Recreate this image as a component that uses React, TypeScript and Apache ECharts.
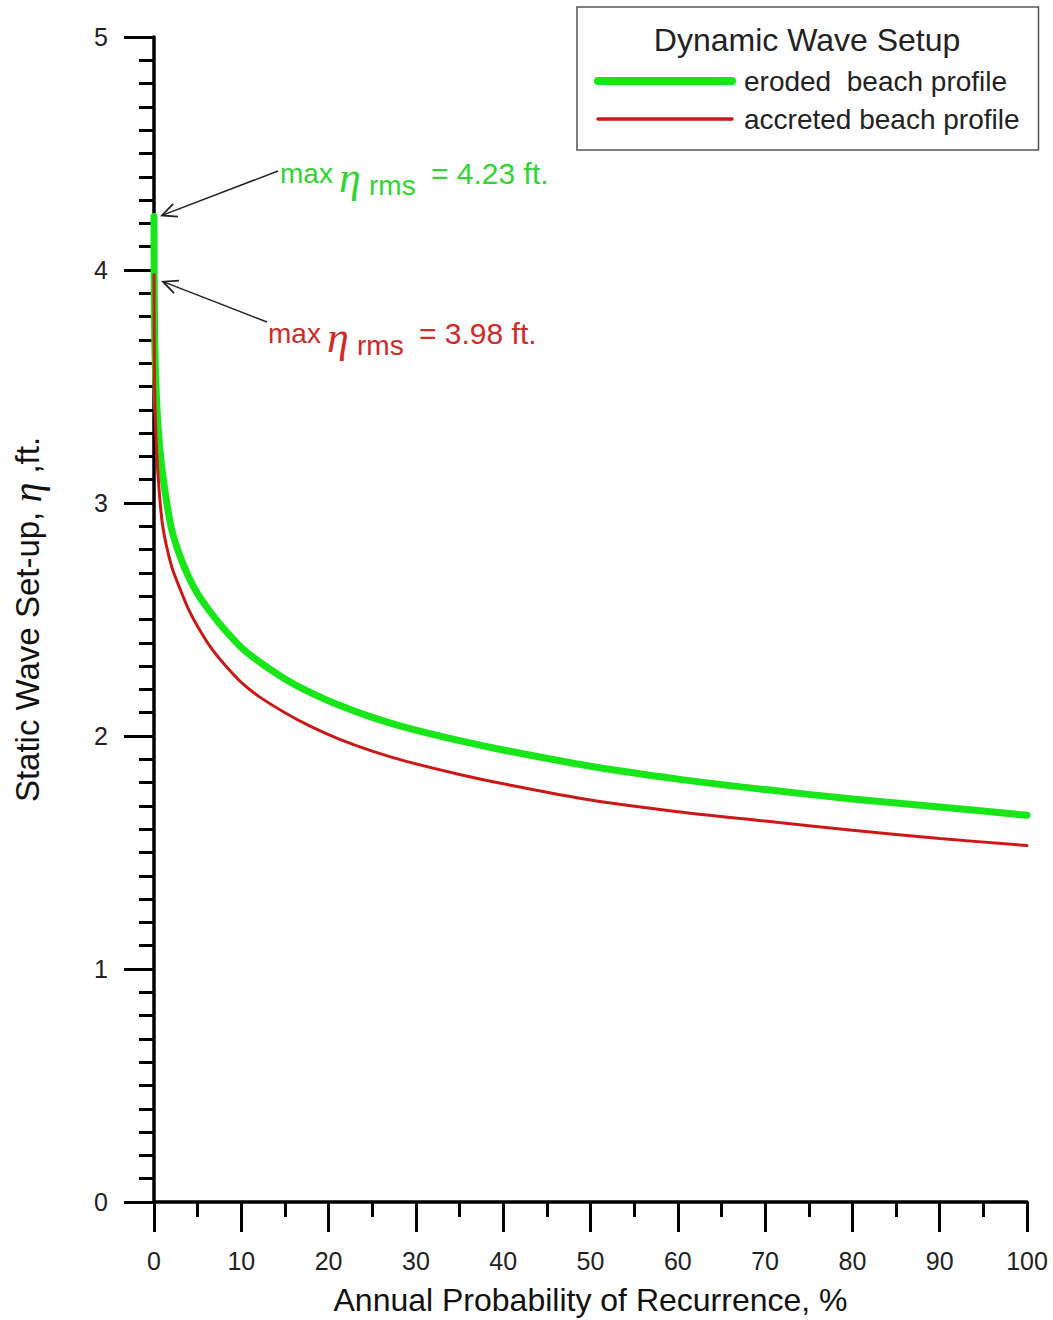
import React, { useEffect, useRef } from "react";
import * as echarts from "echarts";

// Annual probability of recurrence (%)
const probability = [0, 0.05, 0.2, 0.5, 1, 2, 3, 4, 5, 6.5, 8, 10, 12, 15, 18, 21, 25, 29, 35, 40, 50, 60, 70, 80, 90, 100];
// Static wave set-up (ft) for the eroded beach profile
const erodedSetup = [4.23, 3.8, 3.53, 3.31, 3.12, 2.89, 2.77, 2.68, 2.61, 2.53, 2.46, 2.38, 2.32, 2.245, 2.185, 2.135, 2.08, 2.035, 1.98, 1.94, 1.87, 1.815, 1.77, 1.73, 1.695, 1.66];
// Static wave set-up (ft) for the accreted beach profile
const accretedSetup = [3.98, 3.55, 3.31, 3.1, 2.9, 2.73, 2.63, 2.54, 2.47, 2.38, 2.31, 2.23, 2.17, 2.1, 2.04, 1.99, 1.935, 1.89, 1.835, 1.795, 1.725, 1.675, 1.635, 1.595, 1.56, 1.53];

const seriesNames = ["eroded  beach profile", "accreted beach profile"];
const legendTitle = "Dynamic Wave Setup";
const xAxisRange = [0, 100, 10];
const yAxisRange = [0, 5, 1];
const maxEroded = 4.23;
const maxAccreted = 3.98;

const FONT = '"Liberation Sans", Arial, Helvetica, sans-serif';
const GREEN = "#19e619";
const RED = "#cc1818";
const GREEN_TEXT = "#33d433";
const RED_TEXT = "#d02a2a";

function arrow(tip: number[], start: number[]) {
  const dx = start[0] - tip[0];
  const dy = start[1] - tip[1];
  const len = Math.hypot(dx, dy);
  const ux = dx / len;
  const uy = dy / len;
  const L = 16;
  const a = (25 * Math.PI) / 180;
  const rot = (s: number) => [
    tip[0] + L * (ux * Math.cos(s) - uy * Math.sin(s)),
    tip[1] + L * (ux * Math.sin(s) + uy * Math.cos(s)),
  ];
  return [
    {
      type: "line",
      shape: { x1: start[0], y1: start[1], x2: tip[0], y2: tip[1] },
      style: { stroke: "#222", lineWidth: 1.5 },
      z: 10,
    },
    {
      type: "polyline",
      shape: { points: [rot(a), tip, rot(-a)] },
      style: { stroke: "#222", lineWidth: 1.8, fill: null },
      z: 10,
    },
  ];
}

function maxLabel(x: number, baseline: number, value: number, color: string) {
  const fs = 28;
  return [
    { type: "text", x, y: baseline, style: { text: "max", font: `${fs}px ${FONT}`, fill: color, verticalAlign: "bottom" }, z: 10 },
    { type: "text", x: x + 59, y: baseline + 12, style: { text: "η", font: `italic 44px "Liberation Serif", serif`, fill: color, verticalAlign: "bottom" }, z: 10 },
    { type: "text", x: x + 89, y: baseline + 12, style: { text: "rms", font: `${fs}px ${FONT}`, fill: color, verticalAlign: "bottom" }, z: 10 },
    { type: "text", x: x + 151, y: baseline + 1, style: { text: `= ${value.toFixed(2)} ft.`, font: `30px ${FONT}`, fill: color, verticalAlign: "bottom" }, z: 10 },
  ];
}

export default function App() {
  const ref = useRef<HTMLDivElement>(null);

  useEffect(() => {
    const chart = echarts.init(ref.current!, undefined, { renderer: "svg" });

    const axisLine = { show: true, onZero: false, lineStyle: { color: "#000", width: 3.5 } };
    const tickStyle = { color: "#000", width: 3 };

    chart.setOption({
      animation: false,
      backgroundColor: "#fff",
      grid: { left: 154, right: 26, top: 37, bottom: 118, containLabel: false, outerBoundsMode: "none" },
      legend: {
        orient: "vertical",
        left: 577,
        top: 7,
        padding: [60, 19, 17, 17],
        itemWidth: 134,
        itemHeight: 30,
        itemGap: 10,
        borderColor: "#555",
        borderWidth: 1.5,
        backgroundColor: "#fff",
        selectedMode: false,
        itemStyle: { opacity: 0 },
        data: [
          { name: seriesNames[0], lineStyle: { width: 8, cap: "round" } },
          { name: seriesNames[1], lineStyle: { width: 3.5, cap: "round" } },
        ],
        textStyle: { fontSize: 28, fontFamily: FONT, color: "#222", padding: [0, 0, 0, 7] },
      },
      xAxis: {
        type: "value",
        min: xAxisRange[0],
        max: xAxisRange[1],
        interval: xAxisRange[2],
        axisLine,
        axisTick: { show: true, inside: false, length: 30, lineStyle: tickStyle },
        minorTick: { show: true, splitNumber: 2, length: 15, lineStyle: tickStyle },
        splitLine: { show: false },
        axisLabel: { fontSize: 25, fontFamily: FONT, color: "#222", margin: 46 },
        name: "Annual Probability of Recurrence, %",
        nameLocation: "middle",
        nameGap: 82,
        nameTextStyle: { fontSize: 32, fontFamily: FONT, color: "#111" },
      },
      yAxis: {
        type: "value",
        min: yAxisRange[0],
        max: yAxisRange[1],
        interval: yAxisRange[2],
        axisLine,
        axisTick: { show: true, inside: false, length: 30, lineStyle: tickStyle },
        minorTick: { show: true, splitNumber: 10, length: 15, lineStyle: tickStyle },
        splitLine: { show: false },
        axisLabel: { fontSize: 25, fontFamily: FONT, color: "#222", margin: 46 },
        name: "Static Wave Set-up, {e|η} ,ft.",
        nameLocation: "middle",
        nameRotate: 90,
        nameGap: 107,
        nameTextStyle: {
          fontSize: 33,
          fontFamily: FONT,
          color: "#111",
          rich: { e: { fontSize: 40, fontFamily: '"Liberation Serif", serif', fontStyle: "italic", color: "#111" } },
        },
      },
      series: [
        {
          name: seriesNames[0],
          type: "line",
          data: probability.map((p, i) => [p, erodedSetup[i]]),
          showSymbol: false,
          symbol: "none",
          smooth: 0.3,
          clip: false,
          z: 3,
          lineStyle: { color: GREEN, width: 7, cap: "round" },
          itemStyle: { color: GREEN },
        },
        {
          name: seriesNames[1],
          type: "line",
          data: probability.map((p, i) => [p, accretedSetup[i]]),
          showSymbol: false,
          symbol: "none",
          smooth: 0.3,
          clip: false,
          z: 4,
          lineStyle: { color: RED, width: 3, cap: "round" },
          itemStyle: { color: RED },
        },
      ],
    });

    const tipG = chart.convertToPixel({ gridIndex: 0 }, [0, maxEroded]) as number[];
    const tipR = chart.convertToPixel({ gridIndex: 0 }, [0, maxAccreted]) as number[];

    chart.setOption({
      graphic: {
        elements: [
          {
            type: "text",
            x: 807,
            y: 40,
            style: { text: legendTitle, font: `32px ${FONT}`, fill: "#222", align: "center", verticalAlign: "middle" },
            z: 20,
          },
          ...arrow([tipG[0] + 8, tipG[1] - 1], [278, 171]),
          ...arrow([tipR[0] + 9, tipR[1] + 7], [267, 322]),
          ...maxLabel(280, 187, maxEroded, GREEN_TEXT),
          ...maxLabel(268, 347, maxAccreted, RED_TEXT),
        ],
      },
    });

    return () => chart.dispose();
  }, []);

  return (
    <div
      ref={ref}
      style={{ position: "absolute", left: 0, top: 0, width: 1053, height: 1320, background: "#fff" }}
    />
  );
}
